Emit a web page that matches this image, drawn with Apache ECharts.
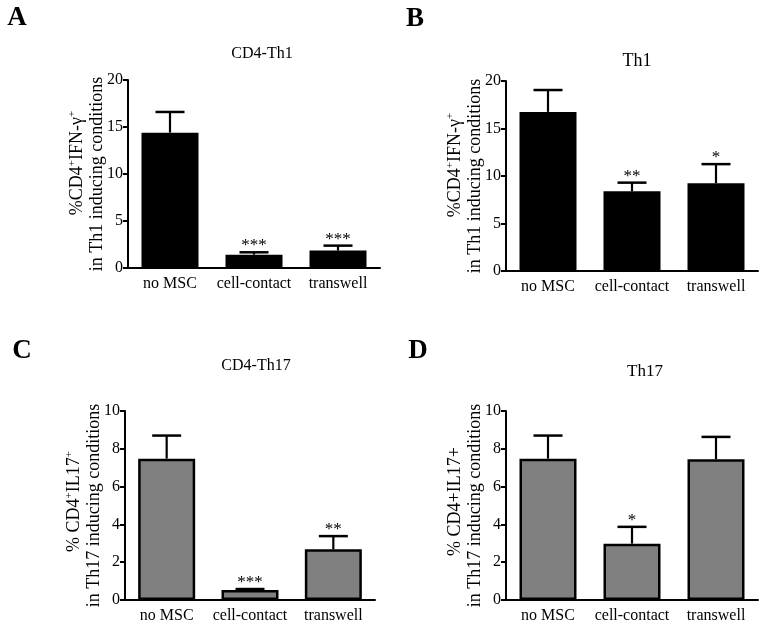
<!DOCTYPE html>
<html>
<head>
<meta charset="utf-8">
<script src="https://cdn.jsdelivr.net/npm/echarts@6/dist/echarts.min.js"></script>
<style>
  html, body { margin: 0; padding: 0; background: #fff; }
  #chart { width: 762px; height: 626px; }
</style>
</head>
<body>
<div id="chart"></div>
<script>
// ---------- data ----------
const categories = ['no MSC', 'cell-contact', 'transwell'];

const meanA = [14.4, 1.42, 1.85];
const semA  = [2.2, 0.25, 0.53];
const starsA = ['', '***', '***'];

const meanB = [16.75, 8.4, 9.25];
const semB  = [2.3, 0.9, 2.0];
const starsB = ['', '**', '*'];

const meanC = [7.48, 0.53, 2.68];
const semC  = [1.22, 0.05, 0.7];
const starsC = ['', '***', '**'];

const meanD = [7.48, 2.98, 7.45];
const semD  = [1.22, 0.89, 1.18];
const starsD = ['', '*', ''];

const titles = ['CD4-Th1', 'Th1', 'CD4-Th17', 'Th17'];
const letters = ['A', 'B', 'C', 'D'];

// ---------- styling ----------
const FONT = 'Liberation Serif';
const BLACK = '#000';
const GREY = '#808080';

const panels = [
  { mean: meanA, sem: semA, stars: starsA, max: 20, interval: 5, color: BLACK, border: 0,
    grid: { left: 128, top: 80, width: 252, height: 188 },
    name: '{sp|}{t|%CD4}{sup|+}{t|IFN-γ}{sup|+}\n{t|in Th1 inducing conditions}', sp: 22 },
  { mean: meanB, sem: semB, stars: starsB, max: 20, interval: 5, color: BLACK, border: 0,
    grid: { left: 506, top: 81, width: 252, height: 190 },
    name: '{sp|}{t|%CD4}{sup|+}{t|IFN-γ}{sup|+}\n{t|in Th1 inducing conditions}', sp: 22 },
  { mean: meanC, sem: semC, stars: starsC, max: 10, interval: 2, color: GREY, border: 2.5,
    grid: { left: 125, top: 411, width: 250, height: 189 },
    name: '{sp|}{t|% CD4}{sup|+}{t|IL17}{sup|+}\n{t|in Th17 inducing conditions}', sp: 8 },
  { mean: meanD, sem: semD, stars: starsD, max: 10, interval: 2, color: GREY, border: 2.5,
    grid: { left: 506, top: 411, width: 252, height: 189 },
    name: '{sp|}{t|% CD4+IL17+}\n{t|in Th17 inducing conditions}', sp: 8 }
];

const grids = [], xAxes = [], yAxes = [], series = [];

panels.forEach((p, k) => {
  grids.push(Object.assign({ containLabel: false }, p.grid));
  xAxes.push({
    type: 'category', gridIndex: k, data: categories,
    axisLine: { show: true, lineStyle: { color: BLACK, width: 2 } },
    axisTick: { show: false },
    axisLabel: { color: BLACK, fontFamily: FONT, fontSize: 16, margin: 8, interval: 0, hideOverlap: false },
    splitLine: { show: false }
  });
  yAxes.push({
    type: 'value', gridIndex: k, min: 0, max: p.max, interval: p.interval,
    axisLine: { show: true, lineStyle: { color: BLACK, width: 2 } },
    axisTick: { show: true, length: 5, lineStyle: { color: BLACK, width: 2 } },
    axisLabel: { color: BLACK, fontFamily: FONT, fontSize: 16, margin: 5 },
    splitLine: { show: false },
    name: p.name, nameLocation: 'middle', nameGap: 21, nameMoveOverlap: false,
    nameTextStyle: {
      color: BLACK, fontFamily: FONT, fontSize: 18, lineHeight: 20,
      rich: {
        t: { color: BLACK, fontFamily: FONT, fontSize: 18, lineHeight: 20 },
        sup: { color: BLACK, fontFamily: FONT, fontSize: 11, lineHeight: 11, verticalAlign: 'top' },
        sp: { width: p.sp, lineHeight: 20 }
      }
    }
  });
  series.push({
    type: 'bar', xAxisIndex: k, yAxisIndex: k, barWidth: 57,
    data: p.mean,
    itemStyle: { color: p.color, borderColor: BLACK, borderWidth: p.border },
    silent: true, animation: false
  });
  series.push({
    type: 'custom', xAxisIndex: k, yAxisIndex: k, z: 5, animation: false, silent: true,
    data: p.mean.map((m, i) => [i, m, p.sem[i]]),
    renderItem: function (params, api) {
      const i = api.value(0), m = api.value(1), s = api.value(2);
      const base = api.coord([i, m]);
      const top = api.coord([i, m + s]);
      const half = 14.5;
      const children = [
        { type: 'line', shape: { x1: base[0], y1: base[1], x2: top[0], y2: top[1] },
          style: { stroke: BLACK, lineWidth: 2.2 } },
        { type: 'line', shape: { x1: top[0] - half, y1: top[1], x2: top[0] + half, y2: top[1] },
          style: { stroke: BLACK, lineWidth: 2.5 } }
      ];
      const st = p.stars[params.dataIndex];
      if (st) {
        children.push({ type: 'text', x: top[0], y: top[1] + 2,
          style: { text: st, fill: BLACK, font: '17px "' + FONT + '"', textAlign: 'center', textVerticalAlign: 'bottom' } });
      }
      return { type: 'group', children: children };
    }
  });
});

const letterPos = [[17, 18], [415, 19], [22, 351], [418, 351]];
const titlePos = [[262, 54], [637, 61], [256, 366], [645, 372]];
const titleSize = [16, 18, 16, 17];
const graphics = [];
letters.forEach((l, k) => {
  graphics.push({ type: 'text', x: letterPos[k][0], y: letterPos[k][1],
    style: { text: l, fill: BLACK, font: 'bold 27px "' + FONT + '"', textAlign: 'center', textVerticalAlign: 'middle' } });
  graphics.push({ type: 'text', x: titlePos[k][0], y: titlePos[k][1],
    style: { text: titles[k], fill: BLACK, font: titleSize[k] + 'px "' + FONT + '"', textAlign: 'center', textVerticalAlign: 'middle' } });
});

const chart = echarts.init(document.getElementById('chart'), null, { renderer: 'canvas' });
chart.setOption({
  animation: false,
  backgroundColor: '#fff',
  grid: grids, xAxis: xAxes, yAxis: yAxes, series: series,
  graphic: graphics
});
</script>
</body>
</html>
